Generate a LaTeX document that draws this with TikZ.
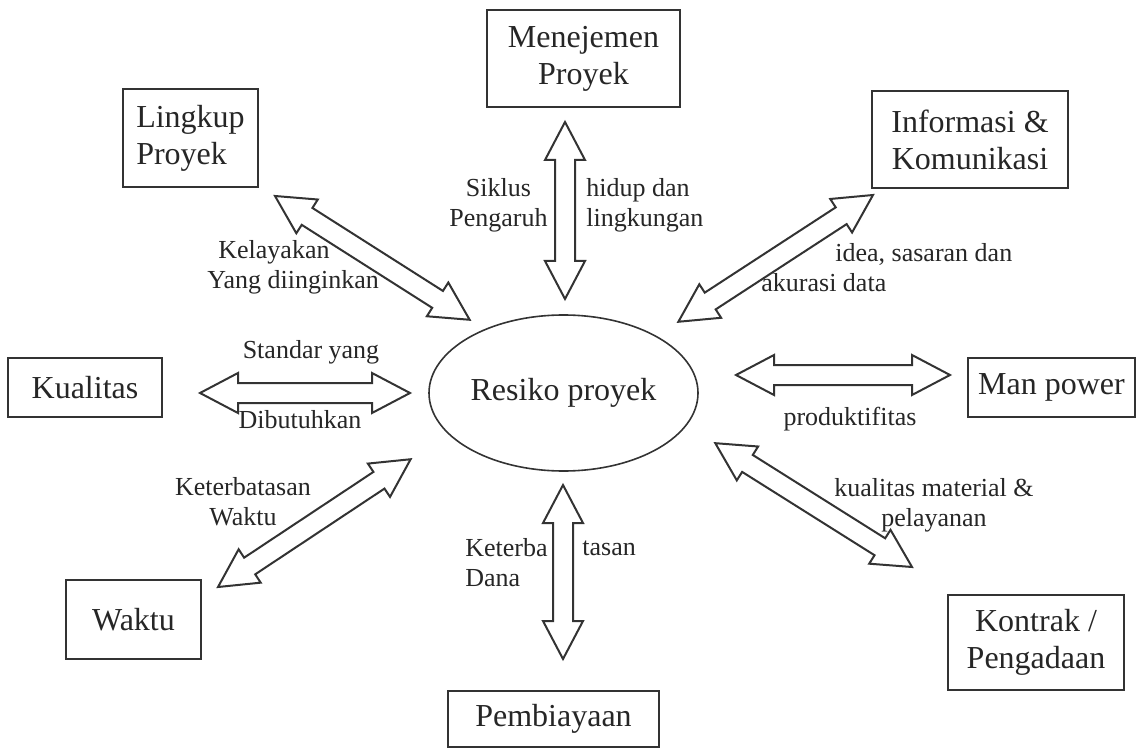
\documentclass[tikz,border=0pt]{standalone}
\usepackage{fontspec}
\setmainfont{Liberation Serif}
\usetikzlibrary{calc,shapes.geometric}

\begin{document}
\begin{tikzpicture}[x=0.5pt, y=-0.5pt,
        every node/.style={text=black!85},
        box/.style={draw=black!80, line width=1pt, inner sep=0pt, font=\fontsize{16}{18.5}\selectfont},
        lbl/.style={inner sep=0pt, font=\fontsize{13}{15}\selectfont},
        arrowline/.style={draw=black!80, line width=1pt, line join=miter}]

        \useasboundingbox (0,0) rectangle (1138,748);

        % Hollow double arrow between two named points
        \def\fatarrow#1#2{%
            \draw[arrowline] let \p1=($(#2)-(#1)$), \n1={atan2(\y1,\x1)}, \n2={veclen(\x1,\y1)} in
                [shift={(#1)}, rotate=\n1]
                (0pt,0pt) -- (19pt,10pt) -- (19pt,5pt) -- (\n2-19pt,5pt) -- (\n2-19pt,10pt)
                -- (\n2,0pt) -- (\n2-19pt,-10pt) -- (\n2-19pt,-5pt) -- (19pt,-5pt) -- (19pt,-10pt) -- cycle;}

        % The centre
        \node[draw=black!80, ellipse, line width=0.8pt, minimum width=134.5pt, minimum height=78pt, inner sep=0pt,
              font=\fontsize{16}{18.5}\selectfont] (resiko) at (563.5,393) {Resiko proyek};

        % The boxes round it
        \node[box, minimum width=67.5pt, minimum height=49pt, align=left] (lingkup) at (190.5,138) {Lingkup\\Proyek};
        \node[box, minimum width=96.5pt, minimum height=48.5pt, align=center] (menejemen) at (583.5,58.5) {Menejemen\\Proyek};
        \node[box, minimum width=98pt, minimum height=48.5pt, align=center] (informasi) at (970,139.5) {Informasi \&\\Komunikasi};
        \node[box, minimum width=77pt, minimum height=29.5pt] (kualitas) at (85,387.5) {Kualitas};
        \node[box, minimum width=83.5pt, minimum height=29.5pt] (manpower) at (1051.5,387.5) {Man power};
        \node[box, minimum width=88pt, minimum height=47.5pt, align=center] (kontrak) at (1036,642.5) {Kontrak /\\Pengadaan};
        \node[box, minimum width=67.5pt, minimum height=39.5pt] (waktu) at (133.5,619.5) {Waktu};
        \node[box, minimum width=105.5pt, minimum height=28pt] (pembiayaan) at (553.5,719) {Pembiayaan};

        % Ends of the arrows
        \coordinate (lingkupEnd) at (275,196);      \coordinate (lingkupRes) at (470,320);
        \coordinate (menejemenEnd) at (565,122);    \coordinate (menejemenRes) at (565,299);
        \coordinate (informasiEnd) at (873,195);    \coordinate (informasiRes) at (678,322);
        \coordinate (kualitasEnd) at (200,393);     \coordinate (kualitasRes) at (410,393);
        \coordinate (manpowerEnd) at (950,375);     \coordinate (manpowerRes) at (736,375);
        \coordinate (kontrakEnd) at (912,567);      \coordinate (kontrakRes) at (715,443);
        \coordinate (waktuEnd) at (218,587);        \coordinate (waktuRes) at (411,459);
        \coordinate (pembiayaanEnd) at (563,659);   \coordinate (pembiayaanRes) at (563,485);

        % The arrows
        \fatarrow{lingkupEnd}{lingkupRes}
        \fatarrow{menejemenEnd}{menejemenRes}
        \fatarrow{informasiEnd}{informasiRes}
        \fatarrow{kualitasEnd}{kualitasRes}
        \fatarrow{manpowerEnd}{manpowerRes}
        \fatarrow{kontrakEnd}{kontrakRes}
        \fatarrow{waktuEnd}{waktuRes}
        \fatarrow{pembiayaanEnd}{pembiayaanRes}

        % Labels on the arrows
        \node[lbl, anchor=west, align=left] (kelayakan) at (207,267) {\hspace*{5.5pt}Kelayakan\\Yang diinginkan};
        \node[lbl, anchor=east, align=center] (siklus) at (548,205) {Siklus\\Pengaruh};
        \node[lbl, anchor=west, align=left] (hidup) at (586,205) {hidup dan\\lingkungan};
        \node[lbl, anchor=west, align=left] (idea) at (761,267.5) {\hspace*{37pt}idea, sasaran dan\\akurasi data};
        \node[lbl] (standar) at (311,352) {Standar yang};
        \node[lbl] (dibutuhkan) at (300,420) {Dibutuhkan};
        \node[lbl] (produktif) at (850,419) {produktifitas};
        \node[lbl, align=center] (material) at (934,505) {kualitas material \&\\pelayanan};
        \node[lbl, align=center] (batasWaktu) at (243,502) {Keterbatasan\\Waktu};
        \node[lbl, anchor=west, align=left] (batasDana) at (465,563) {Keterba\\Dana};
        \node[lbl, anchor=west] (tasan) at (582,548) {tasan};

\end{tikzpicture}
\end{document}
